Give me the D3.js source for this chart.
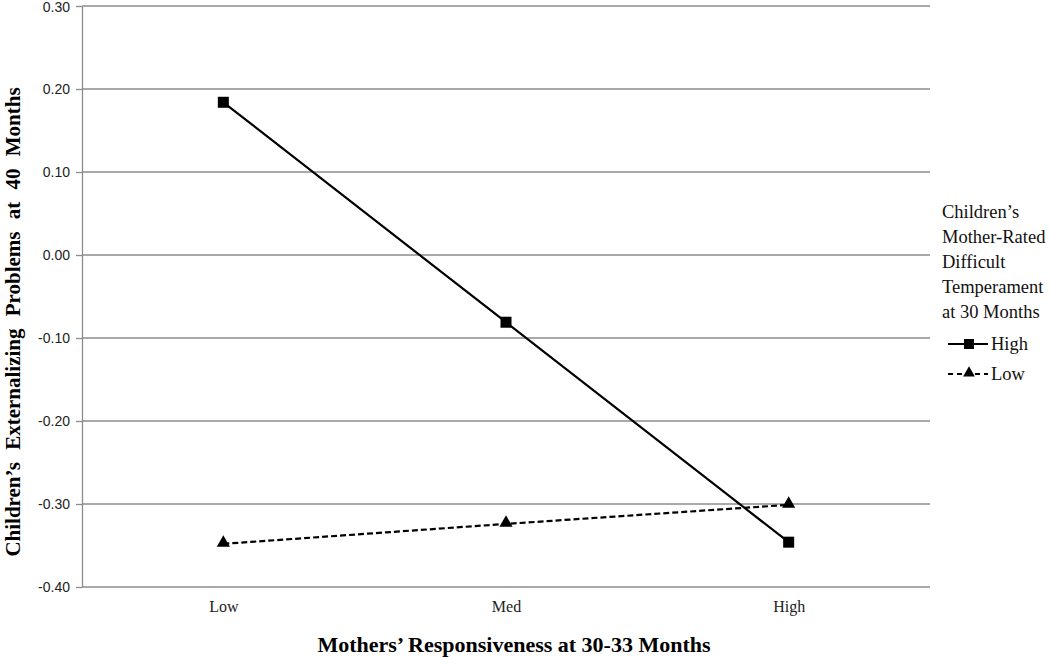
<!DOCTYPE html>
<html>
<head>
<meta charset="utf-8">
<script src="https://cdn.jsdelivr.net/npm/d3@7"></script>
<style>
  body { margin: 0; background: #fff; }
  svg { font-family: "Liberation Serif", "Times New Roman", serif; }
</style>
</head>
<body>
<svg id="chart" width="1050" height="657"></svg>
<script>
// data
const categories = ['Low', 'Med', 'High'];
const highTemperament = [0.184, -0.081, -0.346];
const lowTemperament = [-0.348, -0.324, -0.301];
const yTicks = [0.30, 0.20, 0.10, 0.00, -0.10, -0.20, -0.30, -0.40];
const legendTitle = ['Children\u2019s', 'Mother-Rated', 'Difficult', 'Temperament', 'at 30 Months'];

const margin = {left: 82, right: 120, top: 6, bottom: 70};
const width = 1050 - margin.left - margin.right;
const height = 657 - margin.top - margin.bottom;

const svg = d3.select('#chart');
const chart = svg.append('g')
  .attr('transform', 'translate(' + margin.left + ',' + margin.top + ')');

const xScale = d3.scalePoint()
  .domain(categories)
  .range([0, width])
  .padding(0.5);

const yScale = d3.scaleLinear()
  .domain([-0.40, 0.30])
  .range([height, 0]);

// gridlines
chart.selectAll('.grid')
  .data(yTicks).enter()
  .append('line')
  .attr('x1', 0)
  .attr('x2', width)
  .attr('y1', d => yScale(d))
  .attr('y2', d => yScale(d))
  .attr('stroke', '#8c8c8c')
  .attr('stroke-width', 1.3);

// y axis
const yAxis = chart.append('g')
  .call(d3.axisLeft(yScale).tickValues(yTicks).tickFormat(d => d.toFixed(2)).tickSize(6).tickSizeOuter(0));
yAxis.select('.domain').attr('stroke', '#8c8c8c').attr('stroke-width', 1.3);
yAxis.selectAll('.tick line').attr('stroke', '#8c8c8c').attr('stroke-width', 1.3);
yAxis.selectAll('.tick text')
  .attr('font-family', '"Liberation Sans", Arial, sans-serif')
  .attr('font-size', 14)
  .attr('fill', '#222')
  .attr('x', -12)
  .attr('y', (d, i) => i === 0 ? 1.5 : 0); // keep top label inside the page

// x axis labels
const xAxis = chart.append('g')
  .attr('transform', 'translate(0,' + height + ')')
  .call(d3.axisBottom(xScale).tickSize(0));
xAxis.select('.domain').remove();
xAxis.selectAll('.tick text')
  .attr('font-family', '"Liberation Serif", serif')
  .attr('font-size', 16)
  .attr('fill', '#222')
  .attr('y', 25)
  .attr('dy', 0);

// lines
const line = d3.line()
  .x((d, i) => xScale(categories[i]))
  .y(d => yScale(d));

chart.append('path')
  .datum(highTemperament)
  .attr('d', line)
  .attr('fill', 'none')
  .attr('stroke', '#000')
  .attr('stroke-width', 2.2);

chart.append('path')
  .datum(lowTemperament)
  .attr('d', line)
  .attr('fill', 'none')
  .attr('stroke', '#000')
  .attr('stroke-width', 2.2)
  .attr('stroke-dasharray', '6,3');

chart.selectAll('.sq')
  .data(highTemperament).enter()
  .append('rect')
  .attr('x', (d, i) => xScale(categories[i]) - 5.5)
  .attr('y', d => yScale(d) - 5.5)
  .attr('width', 11)
  .attr('height', 11)
  .attr('fill', '#000');

const tri = d3.symbol().type(d3.symbolTriangle).size(75);
chart.selectAll('.tri')
  .data(lowTemperament).enter()
  .append('path')
  .attr('d', tri)
  .attr('transform', (d, i) => 'translate(' + xScale(categories[i]) + ',' + (yScale(d) - 1) + ')')
  .attr('fill', '#000');

// axis titles
svg.append('text')
  .attr('transform', 'translate(20,322) rotate(-90)')
  .attr('text-anchor', 'middle')
  .attr('font-weight', 'bold')
  .attr('font-size', 21)
  .attr('word-spacing', 7)
  .text('Children\u2019s Externalizing Problems at 40 Months');

svg.append('text')
  .attr('x', 514)
  .attr('y', 652)
  .attr('text-anchor', 'middle')
  .attr('font-weight', 'bold')
  .attr('font-size', 22)
  .text('Mothers\u2019 Responsiveness at 30-33 Months');

// legend
const legend = svg.append('g');
legend.selectAll('.lt')
  .data(legendTitle).enter()
  .append('text')
  .attr('x', 942)
  .attr('y', (d, i) => 218 + i * 25)
  .attr('font-size', 18.5)
  .attr('fill', '#111')
  .text(d => d);

const legendItems = [
  {name: 'High', dash: null, y: 344},
  {name: 'Low', dash: '5,4', y: 374}
];
legendItems.forEach((it, k) => {
  legend.append('line')
    .attr('x1', 948).attr('x2', 988)
    .attr('y1', it.y).attr('y2', it.y)
    .attr('stroke', '#000').attr('stroke-width', 2)
    .attr('stroke-dasharray', it.dash);
  if (k === 0) {
    legend.append('rect')
      .attr('x', 964).attr('y', it.y - 5).attr('width', 10).attr('height', 10).attr('fill', '#000');
  } else {
    legend.append('path')
      .attr('d', d3.symbol().type(d3.symbolTriangle).size(60))
      .attr('transform', 'translate(969,' + (it.y - 1) + ')')
      .attr('fill', '#000');
  }
  legend.append('text')
    .attr('x', 991).attr('y', it.y + 6)
    .attr('font-size', 18.5)
    .attr('fill', '#111')
    .text(it.name);
});
</script>
</body>
</html>
